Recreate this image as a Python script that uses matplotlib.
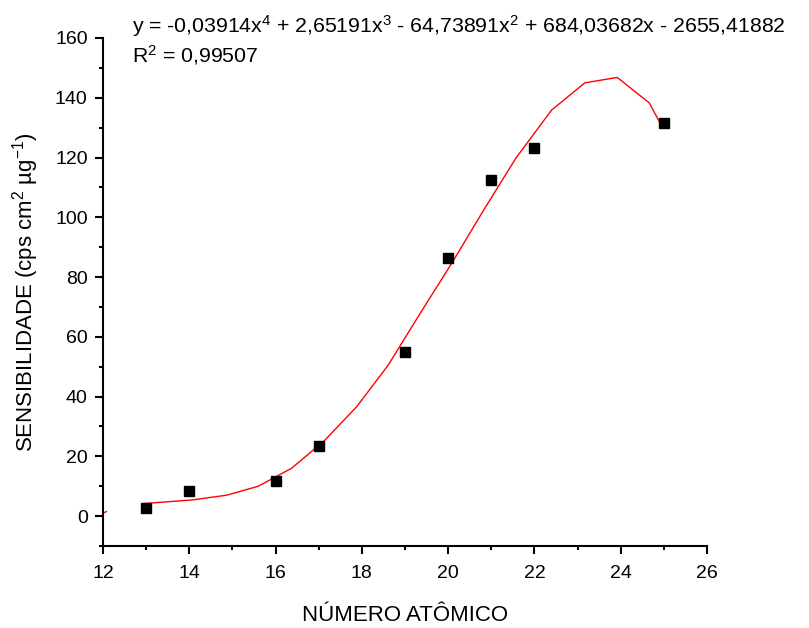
import matplotlib.pyplot as plt
from matplotlib.ticker import MultipleLocator

plt.rcParams['font.family'] = ['Liberation Sans', 'DejaVu Sans']
plt.rcParams['mathtext.fontset'] = 'custom'
plt.rcParams['mathtext.rm'] = 'Liberation Sans'
plt.rcParams['mathtext.it'] = 'Liberation Sans'

# measured points
z = [13, 14, 16, 17, 19, 20, 21, 22, 25]
sens = [2.8, 8.4, 11.7, 23.3, 54.8, 86.5, 112.5, 123.1, 131.7]

# fitted curve
fit_x = [12.95, 14.06, 14.87, 15.6, 16.37, 17.13, 17.88, 18.61, 19.35, 20.1,
         20.84, 21.58, 22.4, 23.17, 23.92, 24.66, 24.95]
fit_y = [4.2, 5.4, 7.0, 10.0, 16.0, 25.2, 36.6, 50.5, 67.8, 85.0,
         102.8, 120.0, 135.9, 145.0, 146.8, 138.3, 130.6]
# small piece of the curve at the left border
stub_x = [12.0, 12.08]
stub_y = [1.0, 1.5]

fig = plt.figure(figsize=(8.09, 6.28), dpi=100)
ax = fig.add_axes([0.1273, 0.1306, 0.7466, 0.8089])

ax.plot(fit_x, fit_y, color='red', lw=1.0)
ax.plot(stub_x, stub_y, color='red', lw=1.0)
ax.plot(z, sens, 's', color='black', ms=6.5)

ax.set_xlim(12, 26)
ax.set_ylim(-10, 160)
ax.xaxis.set_major_locator(MultipleLocator(2))
ax.xaxis.set_minor_locator(MultipleLocator(1))
ax.yaxis.set_major_locator(MultipleLocator(20))
ax.yaxis.set_minor_locator(MultipleLocator(10))

for s in ['top', 'right']:
    ax.spines[s].set_visible(False)
for s in ['left', 'bottom']:
    ax.spines[s].set_linewidth(1.5)
ax.tick_params(which='major', direction='out', length=6, width=1.5, labelsize=14)
ax.tick_params(axis='x', which='major', pad=8)
ax.tick_params(axis='y', which='major', pad=5)
ax.tick_params(which='minor', direction='out', length=3, width=1.5)

ax.set_xlabel('NÚMERO ATÔMICO', fontsize=16, va='center')
ax.xaxis.set_label_coords(0.5, -0.1378)
ax.set_ylabel('SENSIBILIDADE (cps cm$^2$ µg$^{-1}$)', fontsize=16, va='center')
ax.yaxis.set_label_coords(-0.1275, 0.5)

fig.text(132/809, 1 - 26/628,
         'y = -0,03914x$^4$ + 2,65191x$^3$ - 64,73891x$^2$ + 684,03682x - 2655,41882',
         fontsize=15.3, va='center', ha='left')
fig.text(132/809, 1 - 55/628, 'R$^2$ = 0,99507', fontsize=15.3, va='center', ha='left')

fig.savefig('out.png', dpi=100)
